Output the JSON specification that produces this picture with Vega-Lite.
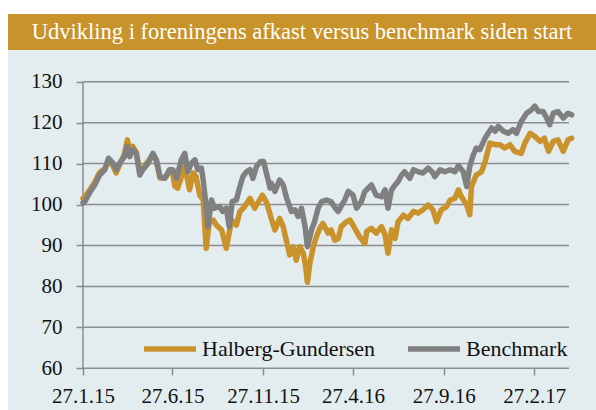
{
  "$schema": "https://vega.github.io/schema/vega-lite/v6.json",
  "background": "white",
  "padding": {"left": 8, "top": 14, "right": 0, "bottom": 0},
  "spacing": 0,
  "config": {"view": {"stroke": null}, "font": "Liberation Serif"},
  "datasets": {
    "grid": [{"g": 60}, {"g": 70}, {"g": 80}, {"g": 90}, {"g": 100}, {"g": 110}, {"g": 120}, {"g": 130}],
    "h": [
      {"d": "2015-01-27", "v": 101.5}, {"d": "2015-01-30", "v": 101.8}, {"d": "2015-02-07", "v": 103.5}, {"d": "2015-02-16", "v": 105.5},
      {"d": "2015-02-24", "v": 107.8}, {"d": "2015-03-05", "v": 108.8}, {"d": "2015-03-11", "v": 110.8}, {"d": "2015-03-19", "v": 109.3},
      {"d": "2015-03-24", "v": 107.7}, {"d": "2015-03-30", "v": 109.8}, {"d": "2015-04-07", "v": 112.3}, {"d": "2015-04-12", "v": 115.8},
      {"d": "2015-04-16", "v": 113.0}, {"d": "2015-04-21", "v": 114.2}, {"d": "2015-04-27", "v": 112.8}, {"d": "2015-05-03", "v": 107.8},
      {"d": "2015-05-08", "v": 108.8}, {"d": "2015-05-17", "v": 110.5}, {"d": "2015-05-25", "v": 112.2}, {"d": "2015-05-31", "v": 110.5},
      {"d": "2015-06-06", "v": 106.5}, {"d": "2015-06-14", "v": 106.4}, {"d": "2015-06-22", "v": 108.0}, {"d": "2015-06-28", "v": 107.2},
      {"d": "2015-07-01", "v": 104.5}, {"d": "2015-07-06", "v": 104.0}, {"d": "2015-07-18", "v": 109.3}, {"d": "2015-07-26", "v": 103.6},
      {"d": "2015-08-01", "v": 107.7}, {"d": "2015-08-06", "v": 106.8}, {"d": "2015-08-12", "v": 102.3}, {"d": "2015-08-18", "v": 101.1},
      {"d": "2015-08-23", "v": 89.3}, {"d": "2015-08-28", "v": 95.4}, {"d": "2015-09-04", "v": 96.2}, {"d": "2015-09-09", "v": 95.0},
      {"d": "2015-09-18", "v": 93.8}, {"d": "2015-09-26", "v": 89.3}, {"d": "2015-10-05", "v": 96.2}, {"d": "2015-10-13", "v": 95.0},
      {"d": "2015-10-19", "v": 98.3}, {"d": "2015-10-27", "v": 99.5}, {"d": "2015-11-05", "v": 101.5}, {"d": "2015-11-13", "v": 99.1},
      {"d": "2015-11-26", "v": 102.3}, {"d": "2015-12-03", "v": 100.5}, {"d": "2015-12-11", "v": 96.6}, {"d": "2015-12-17", "v": 93.8},
      {"d": "2015-12-25", "v": 96.6}, {"d": "2015-12-31", "v": 94.6}, {"d": "2016-01-06", "v": 90.9}, {"d": "2016-01-11", "v": 87.7},
      {"d": "2016-01-17", "v": 89.7}, {"d": "2016-01-22", "v": 86.4}, {"d": "2016-01-28", "v": 89.7}, {"d": "2016-02-03", "v": 88.1},
      {"d": "2016-02-07", "v": 84.8}, {"d": "2016-02-10", "v": 81.0}, {"d": "2016-02-14", "v": 85.6}, {"d": "2016-02-20", "v": 89.7},
      {"d": "2016-02-25", "v": 92.1}, {"d": "2016-03-02", "v": 94.2}, {"d": "2016-03-07", "v": 95.4}, {"d": "2016-03-16", "v": 93.0},
      {"d": "2016-03-21", "v": 93.8}, {"d": "2016-03-27", "v": 91.3}, {"d": "2016-04-02", "v": 91.7}, {"d": "2016-04-07", "v": 94.6},
      {"d": "2016-04-16", "v": 95.8}, {"d": "2016-04-22", "v": 96.2}, {"d": "2016-04-30", "v": 94.2}, {"d": "2016-05-08", "v": 92.1},
      {"d": "2016-05-17", "v": 90.5}, {"d": "2016-05-20", "v": 93.4}, {"d": "2016-05-28", "v": 94.2}, {"d": "2016-06-05", "v": 93.0},
      {"d": "2016-06-14", "v": 94.6}, {"d": "2016-06-20", "v": 92.6}, {"d": "2016-06-25", "v": 88.1}, {"d": "2016-07-01", "v": 93.8},
      {"d": "2016-07-07", "v": 91.7}, {"d": "2016-07-12", "v": 95.8}, {"d": "2016-07-21", "v": 97.4}, {"d": "2016-07-29", "v": 96.6},
      {"d": "2016-08-07", "v": 98.3}, {"d": "2016-08-15", "v": 97.9}, {"d": "2016-08-23", "v": 98.7}, {"d": "2016-09-01", "v": 99.9},
      {"d": "2016-09-09", "v": 98.7}, {"d": "2016-09-15", "v": 95.8}, {"d": "2016-09-23", "v": 98.7}, {"d": "2016-10-02", "v": 99.5},
      {"d": "2016-10-08", "v": 101.1}, {"d": "2016-10-16", "v": 101.5}, {"d": "2016-10-22", "v": 103.6}, {"d": "2016-10-27", "v": 101.9},
      {"d": "2016-11-05", "v": 99.9}, {"d": "2016-11-10", "v": 97.5}, {"d": "2016-11-13", "v": 104.4}, {"d": "2016-11-21", "v": 107.2},
      {"d": "2016-11-30", "v": 108.0}, {"d": "2016-12-06", "v": 110.5}, {"d": "2016-12-14", "v": 115.0}, {"d": "2016-12-23", "v": 114.6},
      {"d": "2016-12-31", "v": 114.6}, {"d": "2017-01-08", "v": 113.8}, {"d": "2017-01-17", "v": 114.6}, {"d": "2017-01-25", "v": 113.0},
      {"d": "2017-02-05", "v": 112.5}, {"d": "2017-02-11", "v": 115.0}, {"d": "2017-02-20", "v": 117.4}, {"d": "2017-02-28", "v": 116.6},
      {"d": "2017-03-09", "v": 115.4}, {"d": "2017-03-16", "v": 116.2}, {"d": "2017-03-23", "v": 113.0}, {"d": "2017-03-31", "v": 115.4},
      {"d": "2017-04-08", "v": 115.8}, {"d": "2017-04-17", "v": 113.0}, {"d": "2017-04-25", "v": 115.8}, {"d": "2017-05-01", "v": 116.2}
    ],
    "b": [
      {"d": "2015-01-27", "v": 100.4}, {"d": "2015-01-30", "v": 100.7}, {"d": "2015-02-07", "v": 102.8}, {"d": "2015-02-16", "v": 104.8},
      {"d": "2015-02-24", "v": 107.2}, {"d": "2015-03-05", "v": 108.5}, {"d": "2015-03-11", "v": 111.3}, {"d": "2015-03-19", "v": 110.1},
      {"d": "2015-03-24", "v": 108.5}, {"d": "2015-03-30", "v": 110.1}, {"d": "2015-04-07", "v": 111.7}, {"d": "2015-04-12", "v": 114.2},
      {"d": "2015-04-16", "v": 111.7}, {"d": "2015-04-21", "v": 113.4}, {"d": "2015-04-27", "v": 112.5}, {"d": "2015-05-03", "v": 107.2},
      {"d": "2015-05-08", "v": 108.5}, {"d": "2015-05-17", "v": 110.1}, {"d": "2015-05-25", "v": 112.5}, {"d": "2015-05-31", "v": 110.9},
      {"d": "2015-06-06", "v": 106.8}, {"d": "2015-06-14", "v": 106.4}, {"d": "2015-06-22", "v": 108.5}, {"d": "2015-06-28", "v": 108.5},
      {"d": "2015-07-04", "v": 106.4}, {"d": "2015-07-12", "v": 110.9}, {"d": "2015-07-18", "v": 112.5}, {"d": "2015-07-23", "v": 108.0},
      {"d": "2015-07-29", "v": 110.1}, {"d": "2015-08-04", "v": 110.9}, {"d": "2015-08-09", "v": 108.5}, {"d": "2015-08-15", "v": 108.9},
      {"d": "2015-08-18", "v": 106.0}, {"d": "2015-08-23", "v": 99.5}, {"d": "2015-08-26", "v": 94.6}, {"d": "2015-09-01", "v": 101.1},
      {"d": "2015-09-06", "v": 99.1}, {"d": "2015-09-15", "v": 99.5}, {"d": "2015-09-20", "v": 98.3}, {"d": "2015-09-26", "v": 99.1},
      {"d": "2015-10-01", "v": 94.6}, {"d": "2015-10-06", "v": 100.7}, {"d": "2015-10-13", "v": 101.1}, {"d": "2015-10-19", "v": 104.4},
      {"d": "2015-10-24", "v": 106.8}, {"d": "2015-10-30", "v": 108.0}, {"d": "2015-11-05", "v": 108.5}, {"d": "2015-11-10", "v": 106.4},
      {"d": "2015-11-16", "v": 109.3}, {"d": "2015-11-23", "v": 110.5}, {"d": "2015-11-28", "v": 110.5}, {"d": "2015-12-03", "v": 107.5},
      {"d": "2015-12-09", "v": 104.0}, {"d": "2015-12-11", "v": 105.2}, {"d": "2015-12-17", "v": 103.2}, {"d": "2015-12-25", "v": 106.0},
      {"d": "2015-12-31", "v": 104.8}, {"d": "2016-01-06", "v": 101.5}, {"d": "2016-01-14", "v": 98.3}, {"d": "2016-01-20", "v": 98.7},
      {"d": "2016-01-25", "v": 97.1}, {"d": "2016-01-31", "v": 99.1}, {"d": "2016-02-06", "v": 94.6}, {"d": "2016-02-10", "v": 89.7},
      {"d": "2016-02-17", "v": 93.8}, {"d": "2016-02-22", "v": 95.8}, {"d": "2016-02-28", "v": 99.1}, {"d": "2016-03-05", "v": 100.7},
      {"d": "2016-03-13", "v": 101.1}, {"d": "2016-03-21", "v": 100.7}, {"d": "2016-03-30", "v": 98.7}, {"d": "2016-04-02", "v": 98.3},
      {"d": "2016-04-13", "v": 101.1}, {"d": "2016-04-19", "v": 103.2}, {"d": "2016-04-27", "v": 102.3}, {"d": "2016-05-03", "v": 99.1},
      {"d": "2016-05-11", "v": 100.7}, {"d": "2016-05-17", "v": 103.2}, {"d": "2016-05-20", "v": 103.6}, {"d": "2016-05-28", "v": 104.8},
      {"d": "2016-06-05", "v": 102.3}, {"d": "2016-06-14", "v": 101.9}, {"d": "2016-06-20", "v": 103.6}, {"d": "2016-06-25", "v": 99.1},
      {"d": "2016-07-01", "v": 103.6}, {"d": "2016-07-07", "v": 104.8}, {"d": "2016-07-12", "v": 105.6}, {"d": "2016-07-18", "v": 107.2},
      {"d": "2016-07-23", "v": 108.0}, {"d": "2016-08-01", "v": 106.4}, {"d": "2016-08-07", "v": 108.5}, {"d": "2016-08-15", "v": 108.0},
      {"d": "2016-08-23", "v": 107.7}, {"d": "2016-09-01", "v": 108.9}, {"d": "2016-09-09", "v": 107.7}, {"d": "2016-09-12", "v": 106.8},
      {"d": "2016-09-21", "v": 108.5}, {"d": "2016-09-29", "v": 108.0}, {"d": "2016-10-08", "v": 108.5}, {"d": "2016-10-16", "v": 108.0},
      {"d": "2016-10-22", "v": 109.5}, {"d": "2016-10-30", "v": 108.0}, {"d": "2016-11-05", "v": 104.4}, {"d": "2016-11-10", "v": 109.3},
      {"d": "2016-11-16", "v": 112.1}, {"d": "2016-11-21", "v": 113.8}, {"d": "2016-11-27", "v": 113.4}, {"d": "2016-12-06", "v": 116.2},
      {"d": "2016-12-11", "v": 117.4}, {"d": "2016-12-17", "v": 118.7}, {"d": "2016-12-23", "v": 117.9}, {"d": "2016-12-28", "v": 119.1},
      {"d": "2017-01-06", "v": 117.9}, {"d": "2017-01-14", "v": 117.4}, {"d": "2017-01-22", "v": 118.3}, {"d": "2017-01-28", "v": 117.4},
      {"d": "2017-02-05", "v": 120.3}, {"d": "2017-02-14", "v": 122.3}, {"d": "2017-02-22", "v": 123.1}, {"d": "2017-02-28", "v": 124.0},
      {"d": "2017-03-06", "v": 122.7}, {"d": "2017-03-14", "v": 122.7}, {"d": "2017-03-20", "v": 121.1}, {"d": "2017-03-25", "v": 119.5},
      {"d": "2017-03-31", "v": 122.3}, {"d": "2017-04-08", "v": 122.7}, {"d": "2017-04-17", "v": 121.1}, {"d": "2017-04-25", "v": 122.3},
      {"d": "2017-05-01", "v": 121.9}
    ]
  },
  "vconcat": [
    {
      "width": 588,
      "height": 36,
      "view": {"fill": "#C8932B", "stroke": null},
      "data": {"values": [{"t": "Udvikling i foreningens afkast versus benchmark siden start", "p": 0.5}]},
      "mark": {"type": "text", "color": "white", "font": "Liberation Serif", "fontSize": 22.5, "align": "center", "baseline": "middle"},
      "encoding": {
        "text": {"field": "t"},
        "x": {"field": "p", "type": "quantitative", "scale": {"domain": [0, 1]}, "axis": null}
      }
    },
    {
      "width": 588,
      "height": 360,
      "view": {"fill": "#E3EDF0", "stroke": null},
      "resolve": {"axis": {"x": "independent", "y": "independent"}},
      "layer": [
        {
          "data": {"name": "grid"},
          "mark": {"type": "rule", "color": "#8C8C8C", "strokeWidth": 1.5},
          "encoding": {
            "y": {
              "field": "g", "type": "quantitative",
              "scale": {"domain": [49.81, 137.74], "nice": false, "zero": false},
              "axis": {
                "orient": "left", "offset": -75, "domain": false, "grid": false,
                "values": [60, 70, 80, 90, 100, 110, 120, 130],
                "ticks": true, "tickSize": 7, "tickColor": "#8C8C8C", "tickWidth": 1.5,
                "labelFont": "Liberation Serif", "labelFontSize": 21, "labelColor": "#111111",
                "labelPadding": 14, "title": null
              }
            },
            "x": {
              "datum": {"year": 2015, "month": 1, "date": 27}, "type": "temporal",
              "scale": {"domain": [{"year": 2014, "month": 9, "date": 22, "hours": 10}, {"year": 2017, "month": 6, "date": 11, "hours": 5}], "nice": false},
              "axis": {
                "orient": "bottom", "offset": -42, "domain": false, "grid": false,
                "values": [
                  {"year": 2015, "month": 1, "date": 27}, {"year": 2015, "month": 6, "date": 27},
                  {"year": 2015, "month": 11, "date": 27}, {"year": 2016, "month": 4, "date": 27},
                  {"year": 2016, "month": 9, "date": 27}, {"year": 2017, "month": 2, "date": 27}
                ],
                "format": "%-d.%-m.%y",
                "ticks": true, "tickSize": 7, "tickColor": "#8C8C8C", "tickWidth": 1.5,
                "labelFont": "Liberation Serif", "labelFontSize": 21, "labelColor": "#111111",
                "labelPadding": 10, "labelFlush": false, "labelOverlap": false, "title": null
              }
            },
            "x2": {"datum": {"year": 2017, "month": 4, "date": 26, "hours": 14}}
          }
        },
        {
          "data": {"values": [{"a": 60, "b": 130}]},
          "mark": {"type": "rule", "color": "#8C8C8C", "strokeWidth": 1.5},
          "encoding": {
            "x": {
              "datum": {"year": 2015, "month": 1, "date": 27}, "type": "temporal",
              "scale": {"domain": [{"year": 2014, "month": 9, "date": 22, "hours": 10}, {"year": 2017, "month": 6, "date": 11, "hours": 5}], "nice": false},
              "axis": null
            },
            "y": {"field": "a", "type": "quantitative", "scale": {"domain": [49.81, 137.74], "nice": false, "zero": false}, "axis": null},
            "y2": {"field": "b"}
          }
        },
        {
          "data": {"name": "h"},
          "mark": {"type": "line", "strokeWidth": 5.5, "strokeJoin": "round", "strokeCap": "round"},
          "encoding": {
            "x": {
              "field": "d", "type": "temporal",
              "scale": {"domain": [{"year": 2014, "month": 9, "date": 22, "hours": 10}, {"year": 2017, "month": 6, "date": 11, "hours": 5}], "nice": false},
              "axis": null
            },
            "y": {"field": "v", "type": "quantitative", "scale": {"domain": [49.81, 137.74], "nice": false, "zero": false}, "axis": null},
            "color": {
              "datum": "Halberg-Gundersen",
              "scale": {"domain": ["Halberg-Gundersen", "Benchmark"], "range": ["#C9922B", "#808080"]},
              "legend": {
                "orient": "none", "legendX": 133, "legendY": 306, "direction": "horizontal",
                "title": null, "padding": 0, "symbolType": "stroke", "symbolSize": 2704,
                "symbolStrokeWidth": 5.5, "labelFont": "Liberation Serif", "labelFontSize": 22,
                "labelColor": "#111111", "labelOffset": 3, "columnPadding": 21, "labelLimit": 400
              }
            }
          }
        },
        {
          "data": {"name": "b"},
          "mark": {"type": "line", "strokeWidth": 5.5, "strokeJoin": "round", "strokeCap": "round"},
          "encoding": {
            "x": {
              "field": "d", "type": "temporal",
              "scale": {"domain": [{"year": 2014, "month": 9, "date": 22, "hours": 10}, {"year": 2017, "month": 6, "date": 11, "hours": 5}], "nice": false},
              "axis": null
            },
            "y": {"field": "v", "type": "quantitative", "scale": {"domain": [49.81, 137.74], "nice": false, "zero": false}, "axis": null},
            "color": {
              "datum": "Benchmark",
              "scale": {"domain": ["Halberg-Gundersen", "Benchmark"], "range": ["#C9922B", "#808080"]},
              "legend": {
                "orient": "none", "legendX": 133, "legendY": 306, "direction": "horizontal",
                "title": null, "padding": 0, "symbolType": "stroke", "symbolSize": 2704,
                "symbolStrokeWidth": 5.5, "labelFont": "Liberation Serif", "labelFontSize": 22,
                "labelColor": "#111111", "labelOffset": 3, "columnPadding": 21, "labelLimit": 400
              }
            }
          }
        }
      ]
    }
  ]
}
